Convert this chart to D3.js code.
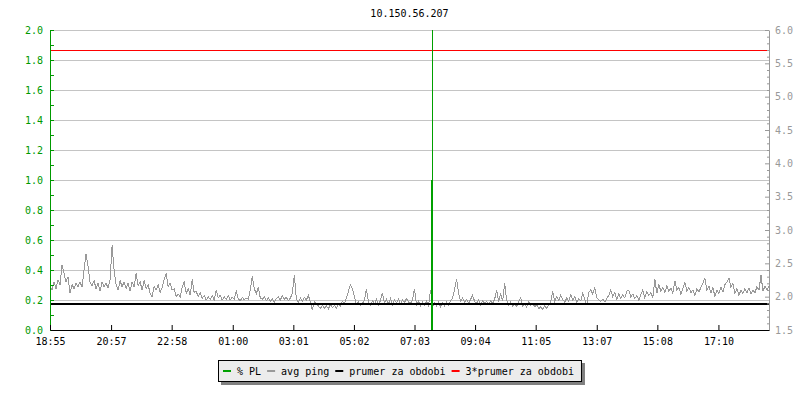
<!DOCTYPE html>
<html><head><meta charset="utf-8">
<script src="https://cdn.jsdelivr.net/npm/d3@7"></script>
<style>
body{margin:0;background:#fff}
svg text{font-family:"DejaVu Sans Mono",monospace;font-size:10px}
</style>
</head><body><svg id="c" width="800" height="400"></svg>
<script>
// ---------- data ----------
const chartTitle = "10.150.56.207";
const timeTickMinutes = [0,122,243,365,486,607,728,849,970,1092,1213,1335];
const timeTickLabels = ["18:55","20:57","22:58","01:00","03:01","05:02","07:03","09:04","11:05","13:07","15:08","17:10"];
const spanMinutes = 1436;
const pingStepMinutes = 4;
// avg ping (ms), right axis
const pingValues = [
2.15,2.10,2.22,2.12,2.25,2.18,2.47,2.35,2.22,2.30,2.05,2.18,2.12,2.20,2.15,2.22,2.14,2.40,2.64,2.45,
2.22,2.16,2.24,2.12,2.20,2.08,2.22,2.15,2.20,2.13,2.25,2.77,2.40,2.18,2.10,2.24,2.15,2.22,2.12,2.20,
2.08,2.22,2.14,2.35,2.16,2.22,2.10,2.25,2.12,2.18,2.05,2.00,2.16,2.10,2.18,2.06,2.14,2.26,2.35,2.15,
2.20,2.10,2.12,2.00,2.04,2.00,2.14,2.22,2.05,2.12,2.02,2.26,2.06,2.08,2.00,2.06,1.97,2.02,1.95,2.00,
1.96,2.02,1.95,2.10,1.98,2.02,1.95,2.00,1.96,2.02,1.95,1.99,1.96,2.08,1.97,1.94,1.99,1.95,1.98,1.96,
2.10,2.31,2.12,2.04,2.14,1.98,1.96,2.00,1.94,1.98,1.93,1.97,1.92,1.97,2.00,1.95,2.02,1.96,1.99,1.94,
1.98,2.05,2.33,1.96,1.92,1.98,1.93,1.99,1.95,2.02,1.92,1.80,1.93,1.90,1.86,1.82,1.87,1.83,1.86,1.82,
1.88,1.84,1.87,1.83,1.88,1.85,1.93,1.90,1.98,2.08,2.18,2.12,2.00,1.88,1.92,1.87,1.90,1.95,2.12,1.92,
1.87,1.94,1.89,1.96,1.88,1.94,2.06,1.90,1.96,1.89,1.97,1.88,1.95,1.91,1.97,1.89,1.95,1.91,1.97,1.92,
1.90,1.95,2.12,1.88,1.93,1.86,1.92,1.87,1.93,1.86,2.10,1.85,1.90,1.86,1.92,1.85,1.90,1.86,1.92,1.87,
1.94,1.98,2.10,2.27,2.05,1.93,1.98,1.92,1.96,1.90,1.96,2.02,1.93,1.90,1.95,1.88,1.94,1.90,1.93,1.88,
1.94,1.90,1.96,2.10,1.92,2.05,1.93,2.20,1.95,1.88,1.92,1.86,1.90,1.85,1.92,1.98,1.86,1.90,1.84,1.92,
1.87,1.90,1.85,1.88,1.82,1.85,1.81,1.86,1.83,1.88,1.92,2.08,1.93,2.00,1.94,2.02,1.96,1.92,1.98,1.93,
2.03,1.95,2.00,1.92,1.97,1.94,2.06,1.96,1.88,2.06,2.10,2.04,2.13,1.98,1.95,1.93,1.96,1.92,1.97,2.02,
2.10,2.00,2.06,1.96,2.04,1.97,2.03,1.98,2.08,2.10,1.99,2.04,1.97,2.02,1.95,2.03,2.10,1.98,2.08,2.02,
2.06,1.99,2.26,2.05,2.18,2.08,2.14,2.06,2.16,2.08,2.13,2.05,2.24,2.10,2.14,2.04,2.12,2.22,2.08,2.14,
2.06,2.10,2.02,2.12,2.07,2.14,2.20,2.28,2.10,2.16,2.06,2.14,2.00,2.10,2.05,2.14,2.07,2.18,2.22,2.28,
2.14,2.20,2.05,2.12,2.02,2.10,2.05,2.12,2.06,2.13,2.04,2.10,2.06,2.15,2.10,2.32,2.08,2.16,2.10,2.16
];
// packet loss events (%), left axis
const plMinutes = [761, 763];
const plValues = [1.0, 100];
const meanPing = 1.9;
const tripleMeanPing = 5.7;
const leftMajorTicks = [0,0.2,0.4,0.6,0.8,1.0,1.2,1.4,1.6,1.8,2.0];
const leftMinorTicks = [0.1,0.3,0.5,0.7,0.9,1.1,1.3,1.5,1.7,1.9];
const rightMajorTicks = [1.5,2.0,2.5,3.0,3.5,4.0,4.5,5.0,5.5,6.0];
const rightMinorTicks = [1.6,1.7,1.8,1.9,2.1,2.2,2.3,2.4,2.6,2.7,2.8,2.9,3.1,3.2,3.3,3.4,3.6,3.7,3.8,3.9,4.1,4.2,4.3,4.4,4.6,4.7,4.8,4.9,5.1,5.2,5.3,5.4,5.6,5.7,5.8,5.9];
const legendLabels = ["% PL","avg ping","prumer za obdobi","3*prumer za obdobi"];
const legendColors = ["#00a000","#999999","#000000","#ff0000"];

// ---------- layout ----------
const L = 50, R = 769, T = 30, B = 330;
const svg = d3.select("#c");
const x = d3.scaleLinear().domain([0, spanMinutes]).range([L, R]);
const yL = d3.scaleLinear().domain([0, 2]).range([B, T]);
const yR = d3.scaleLinear().domain([1.5, 6]).range([B, T]);
const FONT = '"DejaVu Sans Mono",monospace';

// title
svg.append("text").attr("x", (L + R) / 2).attr("y", 17).attr("text-anchor", "middle")
  .attr("fill", "#000").text(chartTitle);

// gridlines
svg.append("g").selectAll("line").data(leftMajorTicks.filter(d => d > 0)).join("line")
  .attr("x1", L).attr("x2", R)
  .attr("y1", d => Math.round(yL(d)) + 0.5).attr("y2", d => Math.round(yL(d)) + 0.5)
  .attr("stroke", "#c4c4c4").attr("stroke-width", 1).attr("shape-rendering", "crispEdges");

// avg ping
const pingLine = d3.line().x((d, i) => x(i * pingStepMinutes)).y(d => yR(d));
svg.append("path").datum(pingValues).attr("d", pingLine)
  .attr("fill", "none").attr("stroke", legendColors[1]).attr("stroke-width", 1)
  .attr("shape-rendering", "crispEdges");

// mean lines
const meanY = Math.round(yR(meanPing)) + 1;
svg.append("line").attr("x1", L).attr("x2", R).attr("y1", meanY).attr("y2", meanY)
  .attr("stroke", legendColors[2]).attr("stroke-width", 2).attr("shape-rendering", "crispEdges");
svg.append("line").attr("x1", L).attr("x2", R)
  .attr("y1", Math.round(yR(tripleMeanPing)) + 0.5).attr("y2", Math.round(yR(tripleMeanPing)) + 0.5)
  .attr("stroke", legendColors[3]).attr("stroke-width", 1).attr("shape-rendering", "crispEdges");

// PL
svg.append("g").selectAll("line").data(plMinutes.map((m, i) => ({m, v: plValues[i]}))).join("line")
  .attr("x1", d => Math.floor(x(d.m)) + 0.5).attr("x2", d => Math.floor(x(d.m)) + 0.5)
  .attr("y1", yL(0)).attr("y2", d => yL(Math.min(d.v, 2)))
  .attr("stroke", legendColors[0]).attr("stroke-width", 1).attr("shape-rendering", "crispEdges");

// left axis
const green = "#009900";
const gL = svg.append("g").attr("transform", `translate(${L},0)`);
gL.call(d3.axisLeft(yL).tickValues(leftMajorTicks).tickFormat(d3.format(".1f"))
  .tickSizeInner(-4).tickSizeOuter(0).tickPadding(7));
gL.select(".domain").attr("stroke", green);
gL.selectAll(".tick line").attr("stroke", green);
gL.selectAll(".tick text").attr("fill", green).style("font-family", FONT).style("font-size", "10px");
const gL2 = svg.append("g").attr("transform", `translate(${L},0)`);
gL2.call(d3.axisLeft(yL).tickValues(leftMinorTicks).tickFormat("").tickSizeInner(-4).tickSizeOuter(0));
gL2.select(".domain").remove();
gL2.selectAll(".tick line").attr("stroke", green);

// right axis
const grey = "#999999";
const gR = svg.append("g").attr("transform", `translate(${R},0)`);
gR.call(d3.axisRight(yR).tickValues(rightMajorTicks).tickFormat(d3.format(".1f"))
  .tickSizeInner(-4).tickSizeOuter(0).tickPadding(6));
gR.select(".domain").attr("stroke", grey);
gR.selectAll(".tick line").attr("stroke", grey);
gR.selectAll(".tick text").attr("fill", grey).style("font-family", FONT).style("font-size", "10px");
const gR2 = svg.append("g").attr("transform", `translate(${R},0)`);
gR2.call(d3.axisRight(yR).tickValues(rightMinorTicks).tickFormat("").tickSizeInner(-2).tickSizeOuter(0));
gR2.select(".domain").remove();
gR2.selectAll(".tick line").attr("stroke", grey);

// bottom axis
const gB = svg.append("g").attr("transform", `translate(0,${B})`);
gB.call(d3.axisBottom(x).tickValues(timeTickMinutes).tickFormat((d, i) => timeTickLabels[i])
  .tickSizeInner(-5).tickSizeOuter(0).tickPadding(8));
gB.selectAll(".tick line").attr("stroke", "#000");
gB.select(".domain").attr("stroke", "#000");
gB.selectAll(".tick text").attr("fill", "#000").style("font-family", FONT).style("font-size", "10px");

// legend
const lg = svg.append("g");
const items = lg.selectAll("g").data(legendLabels).join("g");
let cx = 0;
items.each(function(d, i) {
  const g = d3.select(this);
  g.append("rect").attr("x", cx).attr("y", -1).attr("width", 8).attr("height", 2).attr("fill", legendColors[i]);
  const t = g.append("text").attr("x", cx + 14).attr("y", 3.5).attr("fill", "#000").text(d);
  const w = t.node().getComputedTextLength();
  cx += 14 + w + 6;
});
const contentW = cx - 6;
const boxX0 = -5, boxX1 = contentW + 7;
const boxW = boxX1 - boxX0;
const legendLeft = Math.round(399 - boxW / 2);
lg.attr("transform", `translate(${legendLeft - boxX0},371)`);
lg.insert("rect", ":first-child").attr("x", boxX0 + 0.5).attr("y", -10.5).attr("width", boxW).attr("height", 21)
  .attr("fill", "#ececec").attr("stroke", "#000").attr("stroke-width", 1);
lg.insert("rect", ":first-child").attr("x", boxX0 + 3).attr("y", -8).attr("width", boxW + 1).attr("height", 22)
  .attr("fill", "#808080");
</script>
</body></html>
